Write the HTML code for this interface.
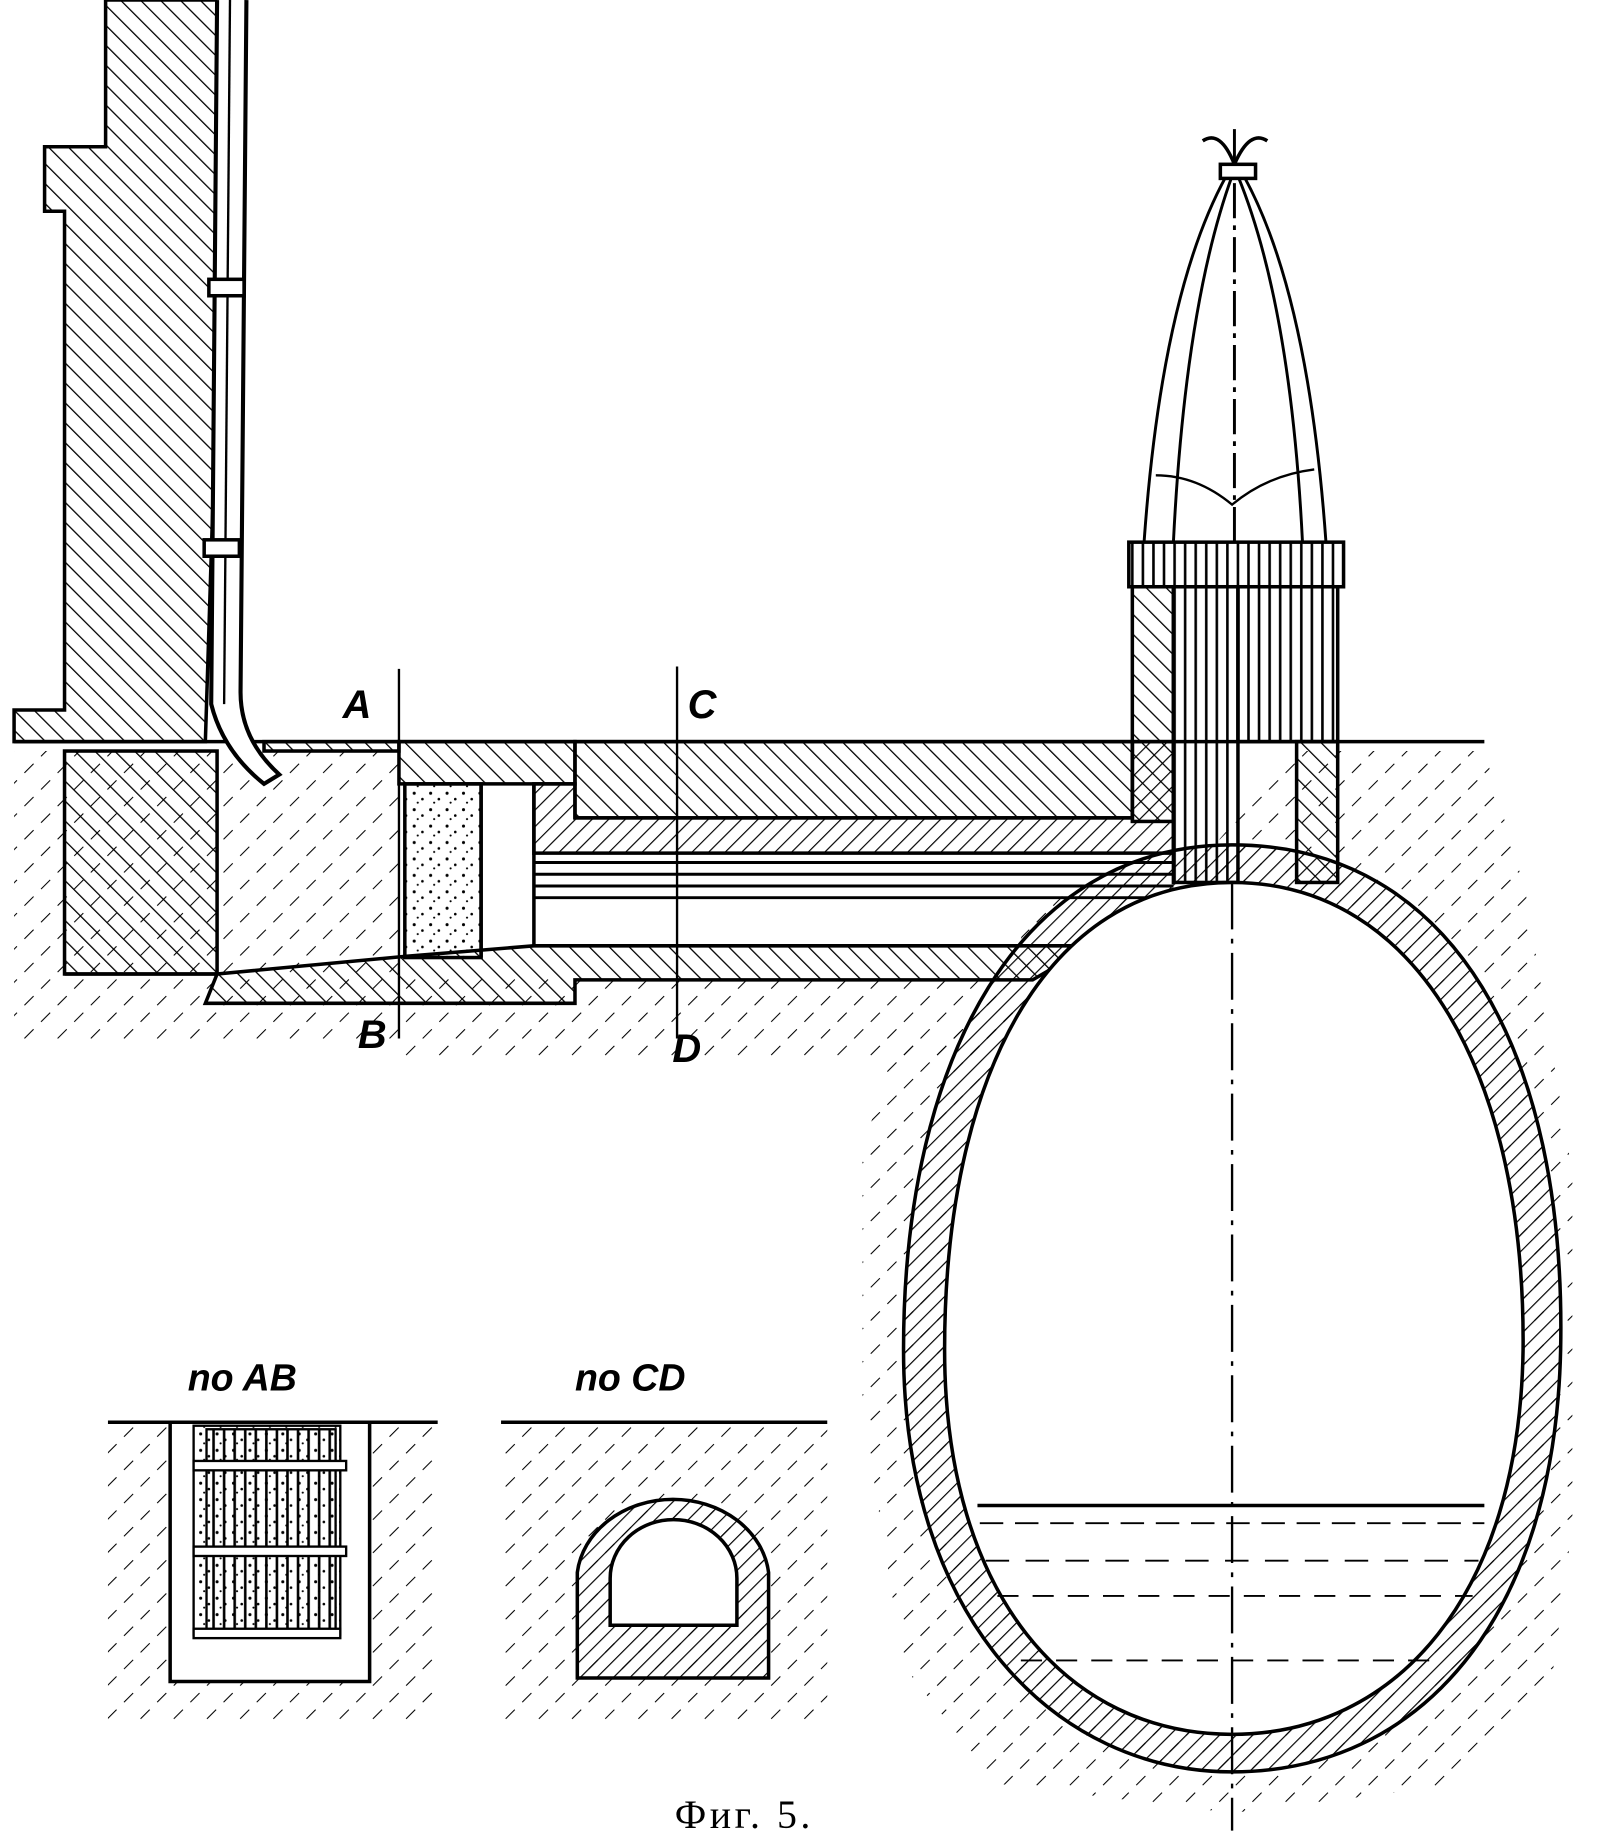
<!DOCTYPE html>
<html><head><meta charset="utf-8"><style>
html,body{margin:0;padding:0;background:#fff;overflow:hidden}
svg{display:block}
</style></head><body>
<svg width="1624" height="1840" viewBox="0 0 1384 1568" xmlns="http://www.w3.org/2000/svg">
<defs>
<pattern id="h1" patternUnits="userSpaceOnUse" width="12" height="12" patternTransform="rotate(-45)">
<line x1="0" y1="0" x2="0" y2="12" stroke="#000" stroke-width="2.2"/></pattern>
<pattern id="h2" patternUnits="userSpaceOnUse" width="10" height="10" patternTransform="rotate(45)">
<line x1="0" y1="0" x2="0" y2="10" stroke="#000" stroke-width="2"/></pattern>
<pattern id="hs" patternUnits="userSpaceOnUse" width="20" height="20" patternTransform="rotate(45)">
<line x1="0" y1="0" x2="0" y2="11" stroke="#000" stroke-width="1.8"/></pattern>
<pattern id="dots" patternUnits="userSpaceOnUse" width="14" height="14">
<circle cx="3" cy="4" r="1.3"/><circle cx="10" cy="9" r="1.1"/><circle cx="6" cy="12" r="0.9"/></pattern>
<pattern id="vl" patternUnits="userSpaceOnUse" width="9" height="10">
<line x1="2" y1="0" x2="2" y2="10" stroke="#000" stroke-width="2.2"/></pattern>
</defs>
<g stroke="#000" stroke-width="3" fill="none">
<path d="M12 640 L340 640 L340 890 L12 890 Z" fill="url(#hs)" stroke="none"/>
<path d="M340 830 L870 830 L870 900 L340 900Z" fill="url(#hs)" stroke="none"/>
<path d="M1105 640 L1265 640 L1300 760 L1340 1000 L1340 1300 L1320 1450 L1250 1520 L1050 1545 L850 1520 L770 1420 L735 1200 L735 980 L760 900 L860 840 L880 760 L1000 760Z" fill="url(#hs)" stroke="none"/>
<path d="M90 0 L195 0 L175 632 L12 632 L12 605 L55 605 L55 180 L38 180 L38 125 L90 125 Z" fill="url(#h1)"/>
<rect x="55" y="640" width="130" height="190" fill="url(#h1)"/>
<line x1="12" y1="632" x2="1265" y2="632"/>
<path d="M185 0 L180 600 Q190 640 225 668 L238 660 Q205 630 205 590 L210 0" fill="#fff" stroke-width="3.5"/>
<line x1="196" y1="0" x2="191" y2="600" stroke-width="2"/>
<rect x="178" y="238" width="30" height="14" fill="#fff"/>
<rect x="174" y="460" width="30" height="14" fill="#fff"/>
<rect x="225" y="632" width="115" height="8" fill="url(#h1)"/>
<path d="M340 632 L490 632 L490 668 L340 668Z" fill="url(#h1)"/>
<path d="M490 632 L965 632 L965 697 L490 697Z" fill="url(#h1)"/>
<path d="M455 668 L490 668 L490 697 L965 697 L965 632 L1000 632 L1000 727 L455 727Z" fill="url(#h2)"/>
<g stroke-width="2.5"><line x1="455" y1="735" x2="1000" y2="735"/><line x1="455" y1="745" x2="1000" y2="745"/><line x1="455" y1="755" x2="1000" y2="755"/><line x1="455" y1="765" x2="990" y2="765"/></g>
<rect x="345" y="668" width="65" height="148" fill="url(#dots)"/>
<line x1="410" y1="668" x2="410" y2="816"/><line x1="455" y1="668" x2="455" y2="806"/>
<path d="M185 830 L345 815 L455 806 L930 806 L880 835 L490 835 L490 855 L175 855Z" fill="url(#h1)"/>
<line x1="55" y1="830" x2="185" y2="830"/>
<line x1="340" y1="570" x2="340" y2="885" stroke-width="2"/>
<line x1="577" y1="568" x2="577" y2="885" stroke-width="2"/>
<rect x="962" y="462" width="183" height="38" fill="url(#vl)"/>
<rect x="965" y="500" width="35" height="200" fill="url(#h1)"/>
<rect x="1000" y="500" width="55" height="252" fill="url(#vl)"/>
<rect x="1055" y="500" width="85" height="132" fill="url(#vl)"/>
<rect x="1105" y="632" width="35" height="120" fill="url(#h1)"/>
<path d="M975 462 Q990 250 1045 150 M1000 462 Q1010 260 1050 150 M1130 462 Q1115 250 1060 150 M1110 462 Q1100 260 1055 150" stroke-width="2.5"/>
<path d="M985 405 Q1020 405 1050 430 Q1080 405 1120 400" stroke-width="2"/>
<line x1="1052" y1="110" x2="1052" y2="462" stroke-width="2.5" stroke-dasharray="30 6 4 6"/>
<rect x="1040" y="140" width="30" height="12" fill="#fff"/>
<path d="M1052 140 Q1040 110 1025 120 M1052 140 Q1065 110 1080 120"/>
<path d="M1050 720 C1240 720 1335 900 1330 1150 C1325 1380 1210 1510 1050 1510 C900 1510 770 1380 770 1150 C770 900 870 720 1050 720Z" fill="url(#h2)"/>
<path d="M1050 752 C1210 752 1300 920 1298 1150 C1295 1360 1190 1478 1050 1478 C910 1478 805 1360 805 1150 C805 920 890 752 1050 752Z" fill="#fff"/>
<line x1="1050" y1="752" x2="1050" y2="1560" stroke-width="2" stroke-dasharray="40 8 4 8"/>
<line x1="833" y1="1283" x2="1265" y2="1283" stroke-width="3"/>
<g stroke-width="1.6"><line x1="835" y1="1298" x2="1265" y2="1298" stroke-dasharray="20 10"/><line x1="840" y1="1330" x2="1260" y2="1330" stroke-dasharray="20 14"/><line x1="850" y1="1360" x2="1255" y2="1360" stroke-dasharray="18 12"/><line x1="870" y1="1415" x2="1230" y2="1415" stroke-dasharray="18 12"/></g>
<path d="M92 1212 L373 1212 L373 1470 L92 1470Z" fill="url(#hs)" stroke="none"/>
<line x1="92" y1="1212" x2="373" y2="1212"/>
<path d="M145 1212 L315 1212 L315 1433 L145 1433Z" fill="#fff"/>
<rect x="165" y="1215" width="125" height="178" fill="url(#dots)" stroke-width="2"/>
<rect x="176" y="1218" width="110" height="172" fill="url(#vl)" stroke-width="2"/>
<g fill="#fff" stroke-width="2"><rect x="165" y="1245" width="130" height="8"/><rect x="165" y="1318" width="130" height="8"/><rect x="165" y="1388" width="125" height="8"/></g>
<path d="M427 1212 L705 1212 L705 1470 L427 1470Z" fill="url(#hs)" stroke="none"/>
<line x1="427" y1="1212" x2="705" y2="1212"/>
<path d="M492 1430 L655 1430 L655 1340 A82 70 0 0 0 492 1340Z" fill="url(#h2)"/>
<path d="M520 1385 L628 1385 L628 1345 A54 50 0 0 0 520 1345Z" fill="#fff"/>
</g>
<g font-family="Liberation Sans, sans-serif" font-style="italic" font-weight="bold" font-size="34">
<text x="292" y="612">A</text><text x="586" y="612">C</text>
<text x="305" y="893">B</text><text x="573" y="905">D</text>
<text x="160" y="1185" font-size="32">no AB</text>
<text x="490" y="1185" font-size="32">no CD</text>
</g>
<text x="575" y="1558" font-family="Liberation Serif, serif" font-size="34" letter-spacing="3">Фиг. 5.</text>
</svg>
</body></html>
